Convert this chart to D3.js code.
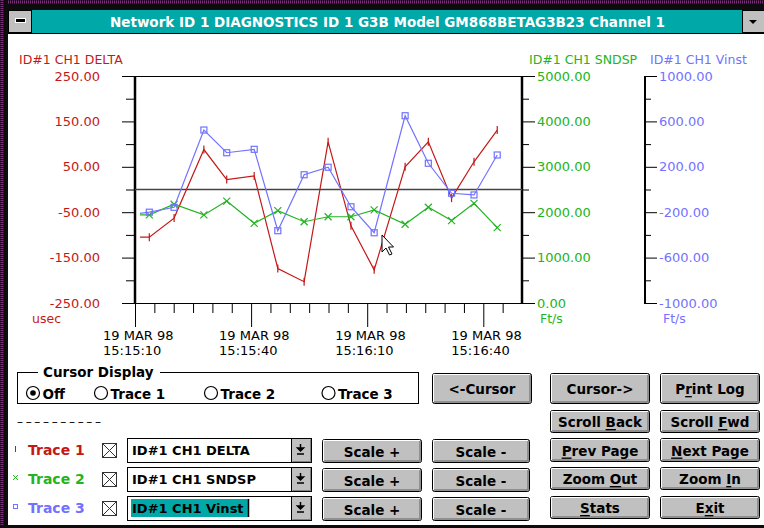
<!DOCTYPE html>
<html><head><meta charset="utf-8">
<script src="https://cdn.jsdelivr.net/npm/d3@7"></script>
<style>
html,body{margin:0;padding:0;background:#fff;overflow:hidden}
svg{display:block}
text{font-family:"DejaVu Sans",sans-serif;white-space:pre}
</style></head><body>
<svg id="c" width="764" height="528"></svg>
<script>
// ---------------- data ----------------
const titleText = "Network ID 1 DIAGNOSTICS ID 1 G3B Model GM868BETAG3B23 Channel 1";
const seriesNames = ["ID#1 CH1 DELTA", "ID#1 CH1 SNDSP", "ID#1 CH1 Vinst"];
const seriesUnits = ["usec", "Ft/s", "Ft/s"];
const traceLabels = ["Trace 1", "Trace 2", "Trace 3"];
// seconds after 15:15:00
const times = [11.3, 13.7, 20.1, 27.8, 33.7, 40.8, 46.9, 53.7, 59.9, 65.8, 71.8, 79.8, 85.8, 91.8, 97.6, 103.6];
const delta = [-105, -105, -63, 88, 22, 30, -174, -203, 105, -80, -177, 50, 105, -19, 61, 131];
const sndsp = [1940, 1940, 2175, 1940, 2245, 1755, 2035, 1790, 1900, 1900, 2050, 1735, 2110, 1815, 2195, 1660];
const vinst = [-210, -200, -157, 524, 324, 354, -363, 130, 196, -152, -381, 650, 231, -33, -48, 304];
const xDomain = [10, 110];
const xMajorTicks = [10, 40, 70, 100];
const xTickDates = ["19 MAR 98", "19 MAR 98", "19 MAR 98", "19 MAR 98"];
const xTickTimes = ["15:15:10", "15:15:40", "15:16:10", "15:16:40"];
const deltaTicks = [250, 150, 50, -50, -150, -250];
const deltaMinor = [200, 100, 0, -100, -200];
const sndspTicks = [5000, 4000, 3000, 2000, 1000, 0];
const sndspMinor = [4500, 3500, 2500, 1500, 500];
const vinstTicks = [1000, 600, 200, -200, -600, -1000];
const vinstMinor = [800, 400, 0, -400, -800];
const cursorOptions = ["Off", "Trace 1", "Trace 2", "Trace 3"];

// ---------------- style ----------------
const RED = "#c41818", GREEN = "#22b422", BLUE = "#7272ff", TEAL = "#00a8a8", GRAY = "#c0c0c0";
const svg = d3.select("#c");
const fmt = d => d.toFixed(2);

// window frame
svg.append("rect").attr("x", 0).attr("y", 0).attr("width", 764).attr("height", 528).attr("fill", "#fff");
svg.append("rect").attr("x", 0).attr("y", 0).attr("width", 764).attr("height", 10).attr("fill", "#0c0c0c");
svg.append("line").attr("x1", 0).attr("x2", 764).attr("y1", 2).attr("y2", 2).attr("stroke", "#7c2c7c").attr("stroke-width", 3).attr("stroke-dasharray", "1 1");
svg.append("rect").attr("x", 0).attr("y", 0).attr("width", 8).attr("height", 528).attr("fill", "#0c0c0c");
svg.append("line").attr("x1", 2).attr("x2", 2).attr("y1", 0).attr("y2", 528).attr("stroke", "#7c2c7c").attr("stroke-width", 3).attr("stroke-dasharray", "1 1");
svg.append("rect").attr("x", 0).attr("y", 525).attr("width", 764).attr("height", 3).attr("fill", "#0c0c0c");

// title bar
svg.append("rect").attr("x", 8).attr("y", 10).attr("width", 734).attr("height", 23).attr("fill", TEAL);
svg.append("line").attr("x1", 8).attr("x2", 764).attr("y1", 33.5).attr("y2", 33.5).attr("stroke", "#000");
svg.append("rect").attr("x", 8.5).attr("y", 10.5).attr("width", 23).attr("height", 22).attr("fill", GRAY).attr("stroke", "#000");
svg.append("rect").attr("x", 15).attr("y", 18).attr("width", 11).attr("height", 5).attr("fill", "#fff");
svg.append("rect").attr("x", 16).attr("y", 19).attr("width", 9).attr("height", 3).attr("fill", "#000");
svg.append("rect").attr("x", 742.5).attr("y", 10.5).attr("width", 22).attr("height", 22).attr("fill", GRAY).attr("stroke", "#000");
svg.append("path").attr("d", "M749,20 L757,20 L753,24 Z").attr("fill", "#000");
svg.append("text").attr("x", 110).attr("y", 21.5).attr("dominant-baseline", "central")
  .attr("font-size", 13.5).attr("font-weight", "bold").attr("fill", "#fff")
  .attr("textLength", 555).attr("lengthAdjust", "spacingAndGlyphs").text(titleText);

// ---------------- chart ----------------
const x = d3.scaleLinear().domain(xDomain).range([135, 522]);
const yL = d3.scaleLinear().domain([-250, 250]).range([303, 76]);
const yG = d3.scaleLinear().domain([0, 5000]).range([303, 76]);
const yB = d3.scaleLinear().domain([-1000, 1000]).range([303, 76]);

function styleAxis(g, color) {
  g.select(".domain").remove();
  g.selectAll(".tick line").attr("stroke", "#000");
  g.selectAll(".tick text").attr("fill", color).attr("font-size", 13).attr("font-family", "DejaVu Sans");
}

// left axis
const gL = svg.append("g").attr("transform", "translate(135,0)");
gL.call(d3.axisLeft(yL).tickValues(deltaTicks).tickSize(13).tickPadding(22).tickFormat(fmt));
styleAxis(gL, RED);
const gLm = svg.append("g").attr("transform", "translate(135,0)");
gLm.call(d3.axisLeft(yL).tickValues(deltaMinor).tickSize(9).tickFormat(""));
styleAxis(gLm, RED);

// green right axis
const gG = svg.append("g").attr("transform", "translate(522,0)");
gG.call(d3.axisRight(yG).tickValues(sndspTicks).tickSize(13).tickPadding(2).tickFormat(fmt));
styleAxis(gG, GREEN);
const gGm = svg.append("g").attr("transform", "translate(522,0)");
gGm.call(d3.axisRight(yG).tickValues(sndspMinor).tickSize(7).tickFormat(""));
styleAxis(gGm, GREEN);

// blue axis
const gB = svg.append("g").attr("transform", "translate(645,0)");
gB.call(d3.axisRight(yB).tickValues(vinstTicks).tickSize(12).tickPadding(2).tickFormat(fmt));
styleAxis(gB, BLUE);
const gBm = svg.append("g").attr("transform", "translate(645,0)");
gBm.call(d3.axisRight(yB).tickValues(vinstMinor).tickSize(6).tickFormat(""));
styleAxis(gBm, BLUE);

// x axis
const gX = svg.append("g").attr("transform", "translate(0,303)");
gX.call(d3.axisBottom(x).tickValues(xMajorTicks).tickSize(24).tickFormat(""));
styleAxis(gX, "#000");
const xMinor = d3.range(xDomain[0] + 5, xDomain[1], 5).filter(t => !xMajorTicks.includes(t));
const gXm = svg.append("g").attr("transform", "translate(0,303)");
gXm.call(d3.axisBottom(x).tickValues(xMinor).tickSize(10).tickFormat(""));
styleAxis(gXm, "#000");
xMajorTicks.forEach((t, i) => {
  svg.append("text").attr("x", x(t) - 32).attr("y", 335).attr("dominant-baseline", "central")
    .attr("font-size", 13).attr("fill", "#000").text(xTickDates[i]);
  svg.append("text").attr("x", x(t) - 32).attr("y", 350).attr("dominant-baseline", "central")
    .attr("font-size", 13).attr("fill", "#000").text(xTickTimes[i]);
});

// frame lines
const [x0, x1] = x.range();
svg.append("line").attr("x1", 122).attr("x2", x1).attr("y1", 76.5).attr("y2", 76.5).attr("stroke", "#000");
svg.append("line").attr("x1", 122).attr("x2", x1).attr("y1", 303.5).attr("y2", 303.5).attr("stroke", "#000");
svg.append("line").attr("x1", x0).attr("x2", x0).attr("y1", 76).attr("y2", 304).attr("stroke", "#000").attr("stroke-width", 2.5);
svg.append("line").attr("x1", x1).attr("x2", x1).attr("y1", 76).attr("y2", 304).attr("stroke", "#000").attr("stroke-width", 2.5);
svg.append("line").attr("x1", 645).attr("x2", 645).attr("y1", 76).attr("y2", 304).attr("stroke", "#000").attr("stroke-width", 2);
svg.append("line").attr("x1", x0).attr("x2", x1).attr("y1", yL(0)).attr("y2", yL(0)).attr("stroke", "#444").attr("stroke-width", 1.6);

// axis titles and units
const axTitle = (tx, ty, txt, col) => svg.append("text").attr("x", tx).attr("y", ty).attr("dominant-baseline", "central")
  .attr("font-size", 12.5).attr("fill", col).text(txt);
axTitle(19, 59, seriesNames[0], RED);
axTitle(529, 59, seriesNames[1], GREEN);
axTitle(650, 59, seriesNames[2], BLUE);
axTitle(32, 318, seriesUnits[0], RED);
axTitle(540, 318, seriesUnits[1], GREEN);
axTitle(663, 318, seriesUnits[2], BLUE);

// series
const series = [
  {vals: delta, y: yL, color: RED, mark: "tick"},
  {vals: sndsp, y: yG, color: GREEN, mark: "x"},
  {vals: vinst, y: yB, color: BLUE, mark: "sq"}
];
series.forEach(s => {
  const pts = times.map((t, i) => [x(t), s.y(s.vals[i])]);
  svg.append("path").attr("d", d3.line()(pts)).attr("fill", "none").attr("stroke", s.color).attr("stroke-width", 1.2);
  const g = svg.append("g").attr("stroke", s.color).attr("fill", "none").attr("stroke-width", 1.2);
  pts.slice(1).forEach(([px, py]) => {
    if (s.mark === "tick") g.append("line").attr("x1", px).attr("x2", px).attr("y1", py - 4).attr("y2", py + 4);
    else if (s.mark === "x") g.append("path").attr("d", `M${px - 3.5},${py - 3.5}L${px + 3.5},${py + 3.5}M${px - 3.5},${py + 3.5}L${px + 3.5},${py - 3.5}`);
    else g.append("rect").attr("x", px - 3).attr("y", py - 3).attr("width", 6).attr("height", 6);
  });
});

// mouse pointer
svg.append("path").attr("d", "M382,235 L382,252 L386,248 L389.5,255 L392,254 L388.5,247 L393.5,247 Z")
  .attr("fill", "#fff").attr("stroke", "#000").attr("stroke-width", 1);

// ---------------- controls ----------------
function button(bx, by, w, h, label, ulIdx) {
  const g = svg.append("g");
  g.append("rect").attr("x", bx + 0.5).attr("y", by + 0.5).attr("width", w - 1).attr("height", h - 1).attr("rx", 2)
    .attr("fill", GRAY).attr("stroke", "#000");
  g.append("path").attr("d", `M${bx + 1.5},${by + h - 2} V${by + 1.5} H${bx + w - 2}`).attr("stroke", "#fff").attr("fill", "none");
  g.append("path").attr("d", `M${bx + 2},${by + h - 2} H${bx + w - 2} V${by + 2}`).attr("stroke", "#808080").attr("fill", "none").attr("stroke-width", 1.5);
  const t = g.append("text").attr("x", bx + w / 2).attr("y", by + h / 2 + 0.5).attr("text-anchor", "middle")
    .attr("dominant-baseline", "central").attr("font-size", 13.5).attr("font-weight", "bold").attr("fill", "#000");
  if (ulIdx == null) t.text(label);
  else {
    t.append("tspan").text(label.slice(0, ulIdx));
    t.append("tspan").attr("text-decoration", "underline").text(label[ulIdx]);
    t.append("tspan").text(label.slice(ulIdx + 1));
  }
}
button(432, 373, 100, 31, "<-Cursor");
button(550, 373, 100, 31, "Cursor->");
button(660, 373, 100, 31, "Print Log", 1);
button(550, 410, 100, 23, "Scroll Back", 7);
button(660, 410, 100, 23, "Scroll Fwd", 7);
button(550, 438, 100, 24, "Prev Page", 0);
button(660, 438, 100, 24, "Next Page", 0);
button(550, 467, 100, 23, "Zoom Out", 5);
button(660, 467, 100, 23, "Zoom In", 5);
button(550, 496, 100, 23, "Stats", 0);
button(660, 496, 100, 23, "Exit", 1);

// cursor display group
svg.append("rect").attr("x", 17.5).attr("y", 372.5).attr("width", 401).attr("height", 31).attr("fill", "none").attr("stroke", "#000");
svg.append("rect").attr("x", 38).attr("y", 364).attr("width", 122).attr("height", 16).attr("fill", "#fff");
svg.append("text").attr("x", 43).attr("y", 372).attr("dominant-baseline", "central").attr("font-size", 13.5)
  .attr("font-weight", "bold").attr("fill", "#000").text("Cursor Display");
const radioX = [33, 101, 211, 328.5];
cursorOptions.forEach((lab, i) => {
  svg.append("circle").attr("cx", radioX[i]).attr("cy", 393).attr("r", 6.5).attr("fill", "#fff").attr("stroke", "#000").attr("stroke-width", 1.2);
  if (i === 0) svg.append("circle").attr("cx", radioX[i]).attr("cy", 393).attr("r", 2.8).attr("fill", "#000");
  svg.append("text").attr("x", radioX[i] + 9.5).attr("y", 393.5).attr("dominant-baseline", "central").attr("font-size", 13.5)
    .attr("font-weight", "bold").attr("fill", "#000").text(lab);
});

svg.append("text").attr("x", 17).attr("y", 422).attr("dominant-baseline", "central").attr("font-size", 12)
  .attr("fill", "#000").attr("textLength", 84).attr("lengthAdjust", "spacing").text("––––––––––");

// trace rows
const rowY = [438, 467, 496];
const traceColors = [RED, GREEN, BLUE];
rowY.forEach((ry, i) => {
  const cy = ry + 12;
  const col = traceColors[i];
  if (i === 0) svg.append("line").attr("x1", 15.5).attr("x2", 15.5).attr("y1", cy - 4).attr("y2", cy + 2).attr("stroke", col);
  if (i === 1) svg.append("path").attr("d", `M13,${cy - 4}L18,${cy + 1}M13,${cy + 1}L18,${cy - 4}`).attr("stroke", col).attr("fill", "none");
  if (i === 2) svg.append("rect").attr("x", 13.5).attr("y", cy - 3.5).attr("width", 4).attr("height", 4).attr("stroke", col).attr("fill", "none");
  svg.append("text").attr("x", 28).attr("y", cy).attr("dominant-baseline", "central").attr("font-size", 14)
    .attr("font-weight", "bold").attr("fill", col).text(traceLabels[i]);
  // checkbox
  svg.append("rect").attr("x", 102.5).attr("y", cy - 6.5).attr("width", 14).attr("height", 14).attr("fill", "#fff").attr("stroke", "#333");
  svg.append("path").attr("d", `M103,${cy - 6}L116,${cy + 7}M103,${cy + 7}L116,${cy - 6}`).attr("stroke", "#333");
  // combo
  svg.append("rect").attr("x", 127.5).attr("y", ry + 0.5).attr("width", 184).attr("height", 24).attr("fill", "#fff").attr("stroke", "#000");
  svg.append("rect").attr("x", 291.5).attr("y", ry + 0.5).attr("width", 20).attr("height", 24).attr("fill", GRAY).attr("stroke", "#000");
  svg.append("path").attr("d", `M292.5,${ry + 23.5} H310.5 V${ry + 1.5}`).attr("stroke", "#808080").attr("fill", "none");
  svg.append("path").attr("d", `M300.5,${cy - 6} V${cy - 2} M297.5,${cy - 2} H303.5 L300.5,${cy + 1} Z M297,${cy + 4} H304`)
    .attr("stroke", "#000").attr("fill", "#000").attr("stroke-width", 1.5);
  if (i === 2) {
    svg.append("rect").attr("x", 131).attr("y", ry + 3).attr("width", 117).attr("height", 18).attr("fill", TEAL);
    svg.append("line").attr("x1", 248.5).attr("x2", 248.5).attr("y1", ry + 3).attr("y2", ry + 21).attr("stroke", "#000").attr("stroke-width", 1.5);
  }
  svg.append("text").attr("x", 132).attr("y", cy + 0.5).attr("dominant-baseline", "central").attr("font-size", 13)
    .attr("font-weight", "bold").attr("fill", "#000").text(seriesNames[i]);
  button(322, ry + 1, 100, 24, "Scale +");
  button(432, ry + 1, 98, 24, "Scale -");
});
</script>
</body></html>
